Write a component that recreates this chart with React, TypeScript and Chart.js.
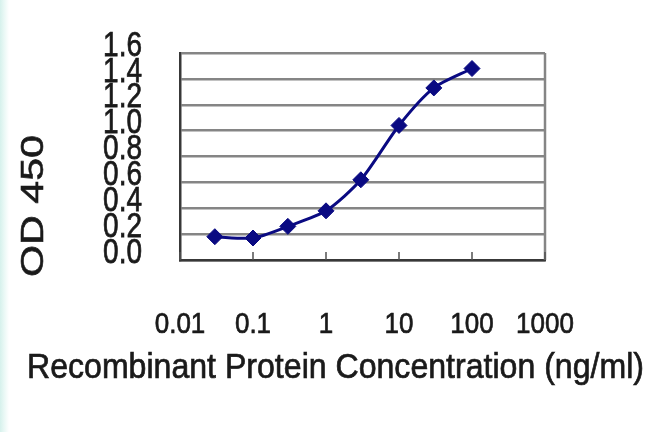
import React, { useEffect, useRef } from "react";
import { Chart, registerables } from "chart.js";

Chart.register(...registerables);

// ---- data ----
const concentrations = [0.03, 0.1, 0.3, 1, 3, 10, 30, 100];
const od450 = [0.18, 0.17, 0.26, 0.38, 0.62, 1.04, 1.33, 1.48];

const xTickValues = [0.01, 0.1, 1, 10, 100, 1000];
const xTickLabels = ["0.01", "0.1", "1", "10", "100", "1000"];
const yTickValues = [0, 0.2, 0.4, 0.6, 0.8, 1.0, 1.2, 1.4, 1.6];
const yTickLabels = ["0.0", "0.2", "0.4", "0.6", "0.8", "1.0", "1.2", "1.4", "1.6"];

const xTitle = "Recombinant Protein Concentration (ng/ml)";
const yTitle = "OD 450";

const FONT = '"Liberation Sans", Arial, Helvetica, sans-serif';
const TEXT_COLOR = "#1a1a1a";

function drawText(ctx: any, text: string, x: number, y: number) {
  ctx.fillText(text, x, y);
  ctx.strokeText(text, x, y);
}

const decorPlugin = {
  id: "decor",
  beforeDatasetsDraw(chart: any) {
    const ctx = chart.ctx;
    const ca = chart.chartArea;
    const xs = chart.scales.x;
    ctx.save();
    // right frame line
    ctx.strokeStyle = "#858585";
    ctx.lineWidth = 2.5;
    ctx.beginPath();
    ctx.moveTo(ca.right, ca.top);
    ctx.lineTo(ca.right, ca.bottom);
    ctx.stroke();
    // inner tick marks on x axis
    ctx.strokeStyle = "#505050";
    ctx.lineWidth = 1.5;
    xTickValues.forEach((v) => {
      const px = xs.getPixelForValue(v);
      ctx.beginPath();
      ctx.moveTo(px, ca.bottom);
      ctx.lineTo(px, ca.bottom - 8);
      ctx.stroke();
    });
    ctx.restore();
  },
  afterDraw(chart: any) {
    const ctx = chart.ctx;
    const xs = chart.scales.x;
    const ys = chart.scales.y;
    ctx.save();
    ctx.fillStyle = TEXT_COLOR;
    ctx.strokeStyle = TEXT_COLOR;
    ctx.lineWidth = 0.6;

    // y tick labels
    ctx.font = `28px ${FONT}`;
    ctx.textAlign = "right";
    ctx.textBaseline = "middle";
    yTickValues.forEach((v, i) => {
      const py = ys.getPixelForValue(v) - 7;
      ctx.save();
      ctx.translate(142, py);
      ctx.scale(1, 1.25);
      drawText(ctx, yTickLabels[i], 0, 0);
      ctx.restore();
    });

    // x tick labels
    ctx.font = `26px ${FONT}`;
    ctx.textAlign = "center";
    ctx.textBaseline = "alphabetic";
    xTickValues.forEach((v, i) => {
      const px = xs.getPixelForValue(v);
      ctx.save();
      ctx.translate(px, 333);
      ctx.scale(1, 1.15);
      drawText(ctx, xTickLabels[i], 0, 0);
      ctx.restore();
    });

    // x title
    ctx.font = `30px ${FONT}`;
    ctx.textAlign = "left";
    const w = ctx.measureText(xTitle).width;
    ctx.save();
    ctx.translate(27, 378);
    ctx.scale(617 / w, 1.16);
    drawText(ctx, xTitle, 0, 0);
    ctx.restore();

    // y title
    ctx.font = `31px ${FONT}`;
    ctx.textAlign = "center";
    ctx.textBaseline = "middle";
    const wy = ctx.measureText(yTitle).width;
    ctx.save();
    ctx.translate(34, 206);
    ctx.rotate(-Math.PI / 2);
    ctx.scale(142 / wy, 1);
    drawText(ctx, yTitle, 0, 0);
    ctx.restore();

    ctx.restore();
  },
};

export default function App() {
  const ref = useRef<HTMLCanvasElement | null>(null);

  useEffect(() => {
    if (!ref.current) return;
    const chart = new Chart(ref.current, {
      type: "line",
      data: {
        datasets: [
          {
            data: concentrations.map((c, i) => ({ x: c, y: od450[i] })),
            borderColor: "#0a0a82",
            backgroundColor: "#0a0a82",
            borderWidth: 3,
            pointStyle: "rectRot",
            pointRadius: 8,
            pointHoverRadius: 8,
            pointBorderWidth: 1,
            tension: 0.25,
            fill: false,
          },
        ],
      },
      options: {
        animation: false,
        responsive: false,
        devicePixelRatio: 1,
        layout: { padding: { left: 180, right: 105, top: 53, bottom: 172 } },
        plugins: { legend: { display: false }, tooltip: { enabled: false } },
        scales: {
          x: {
            type: "logarithmic",
            min: 0.01,
            max: 1000,
            grid: { display: false, drawTicks: false },
            border: { display: true, color: "#383838", width: 2.5 },
            ticks: { display: false },
          },
          y: {
            min: 0,
            max: 1.6,
            ticks: { display: false, stepSize: 0.2 },
            grid: { color: "#858585", lineWidth: 2.5, drawTicks: false },
            border: { display: true, color: "#383838", width: 2.5 },
          },
        },
      },
      plugins: [decorPlugin],
    });
    return () => chart.destroy();
  }, []);

  return (
    <div
      style={{
        position: "absolute",
        left: 0,
        top: 0,
        width: 650,
        height: 432,
        background:
          "linear-gradient(to right, #d6f1ec 0px, #e9f8f5 4px, #ffffff 9px)",
      }}
    >
      <canvas ref={ref} width={650} height={432} />
    </div>
  );
}
